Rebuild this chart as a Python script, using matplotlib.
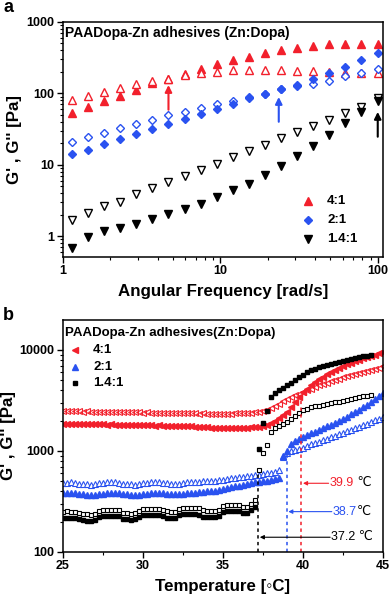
import matplotlib
matplotlib.use("Agg")
import matplotlib.pyplot as plt
import numpy as np
from matplotlib.ticker import LogLocator, NullFormatter, MultipleLocator

plt.rcParams['font.family'] = ['Liberation Sans', 'DejaVu Sans']

# ---------------- Panel a data ----------------
freq = [1.14, 1.44, 1.82, 2.31, 2.92, 3.70, 4.68, 5.92, 7.50, 9.48,
        12.0, 15.2, 19.2, 24.3, 30.8, 38.9, 49.2, 62.3, 78.8, 99.8]
gp_4 = [53, 64, 79, 93, 112, 139, 158, 187, 220, 259,
        294, 327, 365, 405, 428, 461, 487, 498, 498, 487]
gpp_4 = [81, 92, 106, 118, 136, 150, 161, 182, 195, 202,
         211, 213, 216, 214, 208, 206, 200, 195, 195, 195]
gp_2 = [14, 16, 19.7, 22.9, 27, 32, 37.4, 44, 51, 60,
        70, 86, 98, 115, 127, 161, 195, 237, 294, 373]
gpp_2 = [20.8, 24.4, 28.3, 32.6, 37, 42.6, 49, 55.6, 63, 71,
         79, 89, 98, 115, 130, 137, 151, 176, 195, 218]
gp_14 = [0.68, 0.97, 1.19, 1.30, 1.50, 1.74, 2.05, 2.40, 2.82, 3.49,
         4.37, 5.42, 7.24, 9.68, 13.1, 18.5, 26.3, 38.3, 55.6, 78]
gpp_14 = [1.67, 2.11, 2.61, 3.01, 3.89, 4.72, 5.73, 7.02, 8.51, 10.3,
          12.8, 15.4, 19, 23.6, 28.6, 35, 42.6, 52.8, 64, 85]
labels_a = ['4:1', '2:1', '1.4:1']
# arrows (x, y_start, y_end)
arrows_a = [(4.68, 59, 131), (23.5, 40, 89), (100, 24.7, 55)]

# ---------------- Panel b data ----------------
nan = float('nan')
temp = [25.0, 25.25, 25.5, 25.75, 26.0, 26.25, 26.5, 26.75, 27.0, 27.25,
        27.5, 27.75, 28.0, 28.25, 28.5, 28.75, 29.0, 29.25, 29.5, 29.75,
        30.0, 30.25, 30.5, 30.75, 31.0, 31.25, 31.5, 31.75, 32.0, 32.25,
        32.5, 32.75, 33.0, 33.25, 33.5, 33.75, 34.0, 34.25, 34.5, 34.75,
        35.0, 35.25, 35.5, 35.75, 36.0, 36.25, 36.5, 36.75, 37.0, 37.25,
        37.5, 37.75, 38.0, 38.25, 38.5, 38.75, 39.0, 39.25, 39.5, 39.75,
        40.0, 40.25, 40.5, 40.75, 41.0, 41.25, 41.5, 41.75, 42.0, 42.25,
        42.5, 42.75, 43.0, 43.25, 43.5, 43.75, 44.0, 44.25, 44.5, 44.75, 45.0]

b_gp_4 = [1870, 1860, 1850, 1860, 1850, 1840, 1850, 1840, 1830, 1840,
          1830, 1820, 1830, 1820, 1810, 1820, 1810, 1800, 1810, 1800,
          1790, 1800, 1790, 1780, 1790, 1780, 1770, 1780, 1770, 1760,
          1770, 1760, 1750,
          1740, 1730, 1720, 1710, 1700, 1690, 1680, 1680, 1670, 1680,
          1670, 1680, 1690, 1700, 1710, 1720,
          1740, 1770, 1820, 1900, 1990, 2100, 2250, 2450, 2700, 3050,
          3400, 3800, 4150, 4500, 4800, 5150, 5450, 5750, 6050, 6350,
          6650, 6950, 7200, 7500, 7750, 8000, 8250, 8500, 8750, 9000,
          9250, 9500]
b_gpp_4 = [2480, 2470, 2460, 2470, 2460, 2450, 2460, 2450, 2440, 2450,
           2440, 2430, 2440, 2430, 2420, 2430, 2420, 2410, 2420, 2410,
           2400, 2410, 2400, 2390, 2400, 2390, 2380, 2390, 2380, 2370,
           2380, 2370, 2360,
           2360, 2350, 2360, 2350, 2340, 2350, 2340, 2350, 2340, 2350,
           2360, 2360, 2370, 2380, 2400, 2420,
           2450, 2500, 2560, 2650, 2780, 2950, 3100, 3250, 3420, 3570,
           3700, 3850, 4000, 4150, 4300, 4450, 4600, 4750, 4900, 5050,
           5200, 5350, 5500, 5650, 5800, 5950, 6100, 6250, 6400, 6550,
           6700, 6900]
b_gp_2 = [385, 388, 385, 380, 375, 372, 368, 365, 368, 372,
          378, 382, 385, 383, 380, 376, 372, 368, 366, 368,
          372, 378, 384, 388, 386, 382, 378, 374, 372, 375,
          378, 382,
          385, 388, 392, 396, 398, 400, 405, 412, 420, 430,
          440, 448, 455, 462, 470, 480,
          488, 495, 502, 510, 520, 530, 545,
          900, 1000, 1180, 1260, 1320, 1380, 1430, 1490, 1550, 1610,
          1680, 1750, 1820, 1900, 1990, 2080, 2180, 2300, 2420, 2550,
          2700, 2870, 3050, 3250, 3480, 3750]
b_gpp_2 = [480, 485, 488, 482, 475, 470, 468, 465, 470, 478,
           485, 490, 492, 488, 482, 476, 470, 466, 465, 470,
           478, 486, 492, 495, 490, 484, 478, 474, 472, 476,
           482, 488,
           492, 495, 498, 500, 502, 505, 510, 515, 520, 528,
           535, 542, 548, 555, 562, 570,
           578, 585, 592, 600, 612, 625, 650,
           880, 960, 1000, 1030, 1050, 1080, 1120, 1160, 1200, 1240,
           1280, 1320, 1360, 1410, 1460, 1510, 1560, 1620, 1680, 1740,
           1800, 1870, 1940, 2010, 2080, 2150]
b_gpp_14 = [250, 252, 251, 249, 245, 238, 236, 235, 237, 255,
            260, 262, 261, 263, 260, 243, 241, 240, 242, 255,
            264, 266, 265, 267, 265, 262, 252, 250, 251, 268,
            273, 274, 272, 275, 270, 258, 256, 255, 257, 262,
            288, 292, 294, 291, 290, 281, 279, 300, 330,
            650, 950, 1150, 1550, 1700, 1780, 1860, 1950, 2050, 2200,
            2400, 2520, 2600, 2700, 2760, 2820, 2870, 2920, 2970, 3020,
            3080, 3150, 3220, 3300, 3360, 3420, 3480, 3540, 3600,
            nan, nan, nan]
b_gp_14 = [218, 219, 218, 217, 213, 207, 205, 204, 206, 222,
           226, 228, 227, 229, 226, 211, 210, 209, 211, 222,
           230, 231, 230, 232, 230, 228, 219, 218, 218, 233,
           237, 238, 237, 239, 235, 224, 223, 222, 224, 228,
           250, 254, 256, 253, 252, 244, 243, 262, 280,
           1040, 1900, 2500, 3450, 3750, 4000, 4250, 4500, 4700, 5000,
           5350, 5700, 6000, 6300, 6550, 6800, 7000, 7150, 7300, 7450,
           7650, 7850, 8000, 8200, 8350, 8500, 8650, 8800, 8950,
           nan, nan, nan]
labels_b = ['4:1', '2:1', '1.4:1']
# transition temperatures: (label, dashed x, dashed top, arrow y, arrow from x)
trans = [('39.9', 39.9, 3440, 479, 41.6),
         ('38.7', 38.98, 985, 251, 41.8),
         ('37.2', 37.2, 624, 140, 41.7)]

RED = '#f2202c'
BLUE = '#2a52f0'
BLK = '#000000'

fig = plt.figure(figsize=(3.92, 6.02), dpi=100)
axa = fig.add_axes([63/392, 1-257/602, 320/392, 235/602])
axb = fig.add_axes([63/392, 1-552/602, 320/392, 232/602])

# ---------------- Panel a ----------------
ms = 5.2
axa.plot(freq, gp_4, ls='none', marker='^', ms=ms, color=RED, mec=RED)
axa.plot(freq, gpp_4, ls='none', marker='^', ms=ms, mfc='white', mec=RED, mew=1.0)
axa.plot(freq, gpp_2, ls='none', marker='D', ms=4.3, mfc='white', mec=BLUE, mew=1.0)
axa.plot(freq, gp_2, ls='none', marker='D', ms=4.3, color=BLUE, mec=BLUE)
axa.plot(freq, gpp_14, ls='none', marker='v', ms=ms, mfc='white', mec=BLK, mew=1.0)
axa.plot(freq, gp_14, ls='none', marker='v', ms=ms, color=BLK)
for (x, y0, y1), c in zip(arrows_a, [RED, BLUE, BLK]):
    axa.annotate('', xy=(x, y1), xytext=(x, y0),
                 arrowprops=dict(arrowstyle='-|>', color=c, lw=1.5,
                                 mutation_scale=10, shrinkA=0, shrinkB=0))
axa.set_xscale('log')
axa.set_yscale('log')
axa.set_xlim(1, 108)
axa.set_ylim(0.51, 1000)
axa.set_xticks([1, 10, 100])
axa.set_xticklabels(['1', '10', '100'])
axa.set_yticks([1, 10, 100, 1000])
axa.set_yticklabels(['1', '10', '100', '1000'])
axa.xaxis.set_minor_locator(LogLocator(base=10, subs=np.arange(2, 10)))
axa.yaxis.set_minor_locator(LogLocator(base=10, subs=np.arange(2, 10)))
axa.xaxis.set_minor_formatter(NullFormatter())
axa.yaxis.set_minor_formatter(NullFormatter())
axa.set_xlabel('Angular Frequency [rad/s]', fontsize=12.2, fontweight='bold', labelpad=5)
axa.set_ylabel("G' , G'' [Pa]", fontsize=12.2, fontweight='bold', labelpad=3)
axa.text(0.006, 0.953, 'PAADopa-Zn adhesives (Zn:Dopa)', transform=axa.transAxes,
         fontsize=10, fontweight='bold', va='center', ha='left')
leg_a = [('^', RED, 5.2), ('D', BLUE, 4.3), ('v', BLK, 5.2)]
for (m, c, s), lab, yy in zip(leg_a, labels_a, [0.238, 0.157, 0.077]):
    axa.plot([0.766], [yy], marker=m, color=c, ms=s, ls='none', transform=axa.transAxes)
    axa.text(0.825, yy, lab, transform=axa.transAxes, fontsize=9.5,
             fontweight='bold', va='center', ha='left')
fig.text(3/392, 1-8/602, 'a', fontsize=13, fontweight='bold', va='center', ha='left')

# ---------------- Panel b ----------------
axb.plot(temp, b_gpp_4, ls='none', marker='<', ms=4.6, mfc='none', mec=RED, mew=0.8)
axb.plot(temp, b_gp_4, ls='none', marker='<', ms=4.6, color=RED)
axb.plot(temp, b_gpp_2, ls='none', marker='^', ms=4.8, mfc='white', mec=BLUE, mew=0.8)
axb.plot(temp, b_gp_2, ls='none', marker='^', ms=4.8, color=BLUE)
axb.plot(temp, b_gpp_14, ls='none', marker='s', ms=3.4, mfc='white', mec=BLK, mew=0.8)
axb.plot(temp, b_gp_14, ls='none', marker='s', ms=3.4, color=BLK)

for (lab, xd, ytop, ya, xa), c in zip(trans, [RED, BLUE, BLK]):
    axb.plot([xd, xd], [100, ytop], ls=(0, (2.2, 2.2)), color=c, lw=1.1)
    axb.annotate('', xy=(xd + 0.1, ya), xytext=(xa, ya),
                 arrowprops=dict(arrowstyle='-|>', color=c, lw=0.8,
                                 mutation_scale=6, shrinkA=0, shrinkB=0))
    sep = '' if lab == '38.7' else ' '
    if c == BLK:
        axb.text(xa + 0.05, ya, lab + ' \u2103', color=BLK, fontsize=9,
                 va='center', ha='left')
    else:
        t = axb.text(xa + 0.05, ya, lab, color=c, fontsize=9,
                     va='center', ha='left')
        axb.annotate(sep + '\u2103', xy=(1, 0.5), xycoords=t, fontsize=9,
                     color=BLK, va='center', ha='left')

axb.set_yscale('log')
axb.set_xlim(25, 45)
axb.set_ylim(100, 19800)
axb.set_xticks([25, 30, 35, 40, 45])
axb.xaxis.set_minor_locator(MultipleLocator(2.5))
axb.set_yticks([100, 1000, 10000])
axb.set_yticklabels(['100', '1000', '10000'])
axb.yaxis.set_minor_locator(LogLocator(base=10, subs=np.arange(2, 10)))
axb.yaxis.set_minor_formatter(NullFormatter())
axb.set_xlabel('Temperature [\u25e6C]', fontsize=12.2, fontweight='bold', labelpad=5)
axb.set_ylabel("G' , G'' [Pa]", fontsize=12.2, fontweight='bold', labelpad=3)
axb.text(0.006, 0.944, 'PAADopa-Zn adhesives(Zn:Dopa)', transform=axb.transAxes,
         fontsize=9.5, fontweight='bold', va='center', ha='left')
leg_b = [('<', RED, 4.6), ('^', BLUE, 4.8), ('s', BLK, 3.4)]
for (m, c, s), lab, yy in zip(leg_b, labels_b, [0.871, 0.799, 0.727]):
    axb.plot([0.0375], [yy], marker=m, color=c, ms=s, ls='none', transform=axb.transAxes)
    axb.text(0.094, yy, lab, transform=axb.transAxes, fontsize=9.5,
             fontweight='bold', va='center', ha='left')
fig.text(3/392, 1-315/602, 'b', fontsize=13, fontweight='bold', va='center', ha='left')

for ax in (axa, axb):
    for sp in ax.spines.values():
        sp.set_linewidth(1.1)
    ax.tick_params(which='major', direction='out', length=4, width=1.0,
                   labelsize=9, top=False, right=False, pad=2)
    ax.tick_params(which='minor', direction='out', length=2.3, width=0.8,
                   top=False, right=False)
    for lbl in ax.get_xticklabels() + ax.get_yticklabels():
        lbl.set_fontweight('bold')

fig.savefig('out.png', dpi=100)
